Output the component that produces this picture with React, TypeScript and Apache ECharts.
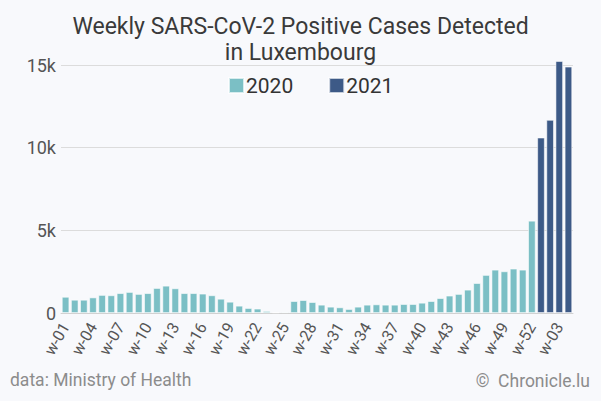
import { useEffect, useRef } from 'react';
import * as echarts from 'echarts';

// week labels: 52 weeks of 2020, then the first weeks of 2021
const weeks2020 = Array.from({ length: 52 }, (_, i) => 'w-' + String(i + 1).padStart(2, '0'));
const weeks2021 = ['w-01', 'w-02', 'w-03', 'w-04'];

const cases2020 = [
  980, 800, 800, 940, 1090, 1070, 1200, 1270, 1150, 1200,
  1510, 1650, 1490, 1200, 1200, 1170, 1070, 860, 680, 440,
  300, 260, 120, 40, 60, 720, 780, 660, 500, 380,
  340, 240, 380, 500, 520, 500, 500, 540, 540, 620,
  720, 900, 1050, 1150, 1410, 1810, 2300, 2620, 2520, 2680,
  2620, 5580,
];
const cases2021 = [10610, 11680, 15240, 14900];

const yTicks = [0, 5000, 10000, 15000];

const FONT = 'Roboto, "Noto Sans", sans-serif';

export default function App() {
  const chartRef = useRef<HTMLDivElement>(null);

  useEffect(() => {
    if (!chartRef.current) return;
    const chart = echarts.init(chartRef.current, null, { renderer: 'svg' });

    const categories = [...weeks2020, ...weeks2021];
    const s2020 = [...cases2020, ...weeks2021.map(() => null)];
    const s2021 = [...weeks2020.map(() => null), ...cases2021];

    const option: echarts.EChartsOption = {
      animation: false,
      backgroundColor: '#f8f9fc',
      textStyle: { fontFamily: FONT },
      title: {
        text: 'Weekly SARS-CoV-2 Positive Cases Detected\nin Luxembourg',
        left: 'center',
        top: 8,
        textStyle: {
          fontSize: 23,
          fontWeight: 'normal',
          color: '#3a3a3a',
          lineHeight: 26,
          fontFamily: FONT,
        },
      },
      legend: {
        data: ['2020', '2021'],
        left: 228,
        top: 75,
        padding: 0,
        icon: 'rect',
        itemWidth: 15,
        itemHeight: 15,
        itemGap: 35,
        textStyle: { fontSize: 21, color: '#333', padding: [0, 0, 0, -3] },
      },
      grid: { left: 61, right: 28, top: 65, bottom: 88 },
      xAxis: {
        type: 'category',
        data: categories,
        axisTick: { show: false },
        axisLine: { lineStyle: { color: '#d0d0d0' } },
        axisLabel: {
          interval: 2,
          rotate: 60,
          fontSize: 16,
          color: '#555',
          margin: 11,
        },
      },
      yAxis: {
        type: 'value',
        min: yTicks[0],
        max: yTicks[yTicks.length - 1],
        interval: 5000,
        axisLine: { show: false },
        axisTick: { show: false },
        splitLine: { lineStyle: { color: '#dcdcdc' } },
        axisLabel: {
          fontSize: 18,
          color: '#555',
          margin: 5,
          formatter: (v: number) => (v === 0 ? '0' : v / 1000 + 'k'),
        },
      },
      series: [
        {
          name: '2020',
          type: 'bar',
          data: s2020,
          barGap: '-100%',
          barCategoryGap: '18%',
          clip: false,
          itemStyle: { color: '#7bbfc5', borderColor: 'rgba(255,255,255,0.7)', borderWidth: 0.8 },
        },
        {
          name: '2021',
          type: 'bar',
          data: s2021,
          barGap: '-100%',
          barCategoryGap: '18%',
          clip: false,
          itemStyle: { color: '#3d5a87', borderColor: 'rgba(255,255,255,0.7)', borderWidth: 0.8 },
        },
      ],
      graphic: [
        {
          type: 'text',
          left: 10,
          top: 371,
          style: { text: 'data: Ministry of Health', fontSize: 17.5, fill: '#8c8c8c', fontFamily: FONT },
        },
        {
          type: 'text',
          right: 11,
          top: 372,
          style: { text: '©  Chronicle.lu', fontSize: 17.5, fill: '#8c8c8c', fontFamily: FONT },
        },
      ],
    };

    chart.setOption(option);
    return () => chart.dispose();
  }, []);

  return (
    <div
      ref={chartRef}
      style={{ position: 'fixed', left: 0, top: 0, width: 601, height: 401 }}
    />
  );
}
